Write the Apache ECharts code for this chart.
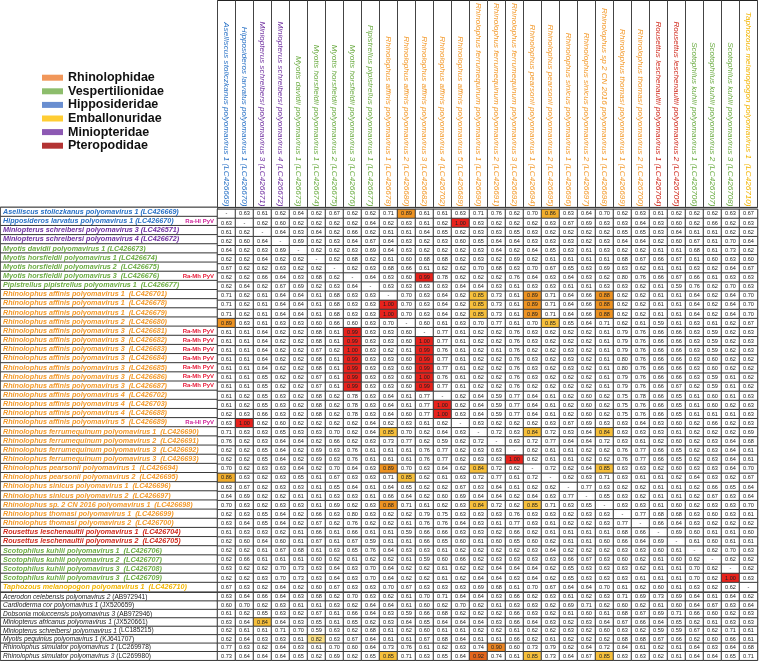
<!DOCTYPE html>
<html><head><meta charset="utf-8">
<script src="https://cdn.jsdelivr.net/npm/echarts@6/dist/echarts.min.js"></script>
<style>html,body{margin:0;padding:0;background:#fff}#c{width:760px;height:664px}</style>
</head><body><div id="c"></div>
<script>
// ---------- DATA ----------
const familyNames = ['Rhinolophidae','Vespertilionidae','Hipposideridae','Emballonuridae','Miniopteridae','Pteropodidae'];
const familyCodes = ['Rhi','Ves','Hip','Emb','Min','Pte'];
const familySwatch = ['#ed7d31','#70ad47','#4472c4','#ffc000','#7030a0','#a00000'];
const familyText = ['#f39a2c','#6cac43','#2a72c6','#f2b400','#7030a0','#d02b1e'];

const colLabels = [
 'Aselliscus stoliczkanus polyomavirus 1 (LC426669)','Hipposideros larvatus polyomavirus 1 (LC426670)',
 'Miniopterus schreibersi polyomavirus 3 (LC426671)','Miniopterus schreibersi polyomavirus 4 (LC426672)',
 'Myotis davidii polyomavirus 1 (LC426673)','Myotis horsfieldii polyomavirus 1 (LC426674)',
 'Myotis horsfieldii polyomavirus 2 (LC426675)','Myotis horsfieldii polyomavirus 3 (LC426676)',
 'Pipistrellus pipistrellus polyomavirus 1 (LC426677)','Rhinolophus affinis polyomavirus 1 (LC426678)',
 'Rhinolophus affinis polyomavirus 2 (LC426680)','Rhinolophus affinis polyomavirus 3 (LC426682)',
 'Rhinolophus affinis polyomavirus 4 (LC426702)','Rhinolophus affinis polyomavirus 5 (LC426689)',
 'Rhinolophus ferrumequinum polyomavirus 1 (LC426690)','Rhinolophus ferrumequinum polyomavirus 2 (LC426691)',
 'Rhinolophus ferrumequinum polyomavirus 3 (LC426692)','Rhinolophus pearsonii polyomavirus 1 (LC426694)',
 'Rhinolophus pearsonii polyomavirus 2 (LC426695)','Rhinolophus sinicus polyomavirus 1 (LC426696)',
 'Rhinolophus sinicus polyomavirus 2 (LC426697)','Rhinolophus sp 2 CN 2016 polyomavirus 1 (LC426698)',
 'Rhinolophus thomasi polyomavirus 1 (LC426699)','Rhinolophus thomasi polyomavirus 2 (LC426700)',
 'Rousettus leschenaultii polyomavirus 1 (LC426704)','Rousettus leschenaultii polyomavirus 2 (LC426705)',
 'Scotophilus kuhlii polyomavirus 1 (LC426706)','Scotophilus kuhlii polyomavirus 2 (LC426707)',
 'Scotophilus kuhlii polyomavirus 3 (LC426708)','Taphozous melanopogon polyomavirus 1  (LC426710)'];
const colFamilies = ['Hip','Hip','Min','Min','Ves','Ves','Ves','Ves','Ves','Rhi','Rhi','Rhi','Rhi','Rhi','Rhi',
 'Rhi','Rhi','Rhi','Rhi','Rhi','Rhi','Rhi','Rhi','Rhi','Pte','Pte','Ves','Ves','Ves','Emb'];

const rowLabels = [
 'Aselliscus stoliczkanus polyomavirus 1 (LC426669)','Hipposideros larvatus polyomavirus 1 (LC426670)',
 'Miniopterus schreibersi polyomavirus 3 (LC426571)','Miniopterus schreibersi polyomavirus 4 (LC426672)',
 'Myotis davidii polyomavirus 1 (LC426673)','Myotis horsfieldii polyomavirus 1 (LC426674)',
 'Myotis horsfieldii polyomavirus 2  (LC426675)','Myotis horsfieldii polyomavirus 3  (LC426676)',
 'Pipistrellus pipistrellus polyomavirus 1  (LC426677)','Rhinolophus affinis polyomavirus 1  (LC426701)',
 'Rhinolophus affinis polyomavirus 1  (LC426678)','Rhinolophus affinis polyomavirus 1  (LC426679)',
 'Rhinolophus affinis polyomavirus 2  (LC426680)','Rhinolophus affinis polyomavirus 3  (LC426681)',
 'Rhinolophus affinis polyomavirus 3  (LC426682)','Rhinolophus affinis polyomavirus 3  (LC426683)',
 'Rhinolophus affinis polyomavirus 3  (LC426684)','Rhinolophus affinis polyomavirus 3  (LC426685)',
 'Rhinolophus affinis polyomavirus 3  (LC426686)','Rhinolophus affinis polyomavirus 3  (LC426687)',
 'Rhinolophus affinis polyomavirus 4  (LC426702)','Rhinolophus affinis polyomavirus 4  (LC426703)',
 'Rhinolophus affinis polyomavirus 4  (LC426688)','Rhinolophus affinis polyomavirus 5  (LC426689)',
 'Rhinolophus ferrumequinum polyomavirus 1  (LC426690)','Rhinolophus ferrumequinum polyomavirus 2  (LC426691)',
 'Rhinolophus ferrumequinum polyomavirus 3  (LC426692)','Rhinolophus ferrumequinum polyomavirus 3  (LC426693)',
 'Rhinolophus pearsonii polyomavirus 1  (LC426694)','Rhinolophus pearsonii polyomavirus 2  (LC426695)',
 'Rhinolophus sinicus polyomavirus 1  (LC426696)','Rhinolophus sinicus polyomavirus 2  (LC426697)',
 'Rhinolophus sp. 2 CN 2016 polyomavirus 1  (LC426698)','Rhinolophus thomasi polyomavirus 1  (LC426699)',
 'Rhinolophus thomasi polyomavirus 2  (LC426700)','Rousettus leschenaultii polyomavirus 1  (LC426704)',
 'Rousettus leschenaultii polyomavirus 2  (LC426705)','Scotophilus kuhlii polyomavirus 1  (LC426706)',
 'Scotophilus kuhlii polyomavirus 2  (LC426707)','Scotophilus kuhlii polyomavirus 3  (LC426708)',
 'Scotophilus kuhlii polyomavirus 3  (LC426709)','Taphozous melanopogon polyomavirus 1  (LC426710)'];
const rowFamilies = ['Hip','Hip','Min','Min','Ves','Ves','Ves','Ves','Ves','Rhi','Rhi','Rhi','Rhi','Rhi','Rhi',
 'Rhi','Rhi','Rhi','Rhi','Rhi','Rhi','Rhi','Rhi','Rhi','Rhi','Rhi','Rhi','Rhi','Rhi','Rhi','Rhi','Rhi','Rhi',
 'Rhi','Rhi','Pte','Pte','Ves','Ves','Ves','Ves','Emb'];
const rowTags = ['', 'Ra-Hl PyV','','','','','','Ra-Mh PyV','','','','','',
 'Ra-Mh PyV','Ra-Mh PyV','Ra-Mh PyV','Ra-Mh PyV','Ra-Mh PyV','Ra-Mh PyV','Ra-Mh PyV','','','','Ra-Hl PyV',
 '','','','','','','','','','','','','','','','','',''];

const refRowLabels = [
 'Acerodon celebensis polyomavirus 2 (AB972941)','Cardioderma cor polyomavirus 1 (JX520659)',
 'Dobsonia moluccensis polyomavirus 3 (AB972946)','Miniopterus africanus polyomavirus 1 (JX520661)',
 'Miniopterus schreibersi polyomavirus 1 (LC185215)','Myotis pequinius polyomavirus 1 (KJ641707)',
 'Rhinolophus simulator polyomavirus 1 (LC269978)','Rhinolophus simulator polyomavirus 3 (LC269980)'];

// pairwise identity, '-' = self comparison
const identity = [
 ['-',0.63,0.61,0.62,0.64,0.62,0.67,0.62,0.62,0.71,0.89,0.61,0.61,0.63,0.71,0.76,0.62,0.70,0.86,0.63,0.64,0.70,0.62,0.63,0.61,0.62,0.62,0.62,0.63,0.67],
 [0.63,'-',0.62,0.60,0.62,0.62,0.62,0.62,0.64,0.62,0.63,0.61,0.62,1.00,0.63,0.62,0.62,0.62,0.63,0.67,0.69,0.63,0.63,0.64,0.63,0.60,0.62,0.66,0.62,0.63],
 [0.61,0.62,'-',0.64,0.63,0.64,0.62,0.66,0.62,0.61,0.61,0.64,0.65,0.62,0.63,0.63,0.65,0.63,0.62,0.62,0.62,0.62,0.65,0.65,0.63,0.64,0.61,0.61,0.62,0.62],
 [0.62,0.60,0.64,'-',0.69,0.62,0.63,0.64,0.67,0.64,0.63,0.62,0.63,0.60,0.65,0.64,0.64,0.63,0.63,0.63,0.62,0.63,0.64,0.64,0.62,0.60,0.67,0.61,0.70,0.64],
 [0.64,0.62,0.63,0.69,'-',0.62,0.62,0.63,0.69,0.64,0.63,0.62,0.62,0.62,0.63,0.64,0.62,0.64,0.65,0.63,0.61,0.63,0.62,0.62,0.61,0.61,0.68,0.61,0.73,0.62],
 [0.62,0.62,0.64,0.62,0.62,'-',0.62,0.68,0.62,0.61,0.60,0.68,0.68,0.62,0.63,0.62,0.69,0.62,0.61,0.61,0.61,0.61,0.68,0.67,0.66,0.67,0.61,0.60,0.63,0.60],
 [0.67,0.62,0.62,0.63,0.62,0.62,'-',0.62,0.63,0.68,0.66,0.61,0.62,0.62,0.70,0.68,0.63,0.70,0.67,0.65,0.63,0.69,0.63,0.62,0.61,0.61,0.63,0.62,0.64,0.67],
 [0.62,0.62,0.66,0.64,0.63,0.68,0.62,'-',0.64,0.63,0.60,0.99,0.78,0.62,0.62,0.62,0.76,0.64,0.63,0.64,0.63,0.62,0.80,0.76,0.66,0.67,0.66,0.61,0.63,0.63],
 [0.62,0.64,0.62,0.67,0.69,0.62,0.63,0.64,'-',0.63,0.63,0.63,0.63,0.64,0.64,0.63,0.61,0.63,0.63,0.61,0.61,0.63,0.63,0.62,0.61,0.59,0.76,0.62,0.70,0.63],
 [0.71,0.62,0.61,0.64,0.64,0.61,0.68,0.63,0.63,'-',0.70,0.63,0.64,0.62,0.85,0.73,0.61,0.89,0.71,0.64,0.66,0.88,0.62,0.62,0.61,0.61,0.64,0.62,0.64,0.70],
 [0.71,0.62,0.61,0.64,0.64,0.61,0.68,0.63,0.63,1.00,0.70,0.63,0.64,0.62,0.85,0.73,0.61,0.89,0.71,0.64,0.66,0.88,0.62,0.62,0.61,0.61,0.64,0.62,0.64,0.70],
 [0.71,0.62,0.61,0.64,0.64,0.61,0.68,0.63,0.63,1.00,0.70,0.63,0.64,0.62,0.85,0.73,0.61,0.89,0.71,0.64,0.66,0.88,0.62,0.62,0.61,0.61,0.64,0.62,0.64,0.70],
 [0.89,0.63,0.61,0.63,0.63,0.60,0.66,0.60,0.63,0.70,'-',0.60,0.61,0.63,0.70,0.77,0.61,0.70,0.85,0.65,0.64,0.71,0.62,0.61,0.59,0.61,0.63,0.61,0.62,0.67],
 [0.61,0.61,0.64,0.62,0.62,0.68,0.61,0.99,0.63,0.63,0.60,'-',0.77,0.61,0.62,0.62,0.76,0.63,0.62,0.62,0.62,0.61,0.79,0.76,0.66,0.66,0.63,0.59,0.62,0.63],
 [0.61,0.61,0.64,0.62,0.62,0.68,0.61,0.99,0.63,0.63,0.60,1.00,0.77,0.61,0.62,0.62,0.76,0.63,0.62,0.62,0.62,0.61,0.79,0.76,0.66,0.66,0.63,0.59,0.62,0.63],
 [0.61,0.61,0.64,0.62,0.62,0.67,0.62,1.00,0.63,0.62,0.61,0.99,0.76,0.61,0.62,0.61,0.76,0.62,0.62,0.63,0.62,0.61,0.79,0.76,0.66,0.66,0.63,0.59,0.62,0.63],
 [0.61,0.61,0.64,0.62,0.62,0.68,0.61,0.99,0.63,0.63,0.60,0.99,0.77,0.61,0.62,0.62,0.76,0.63,0.62,0.63,0.62,0.61,0.80,0.76,0.66,0.66,0.63,0.60,0.62,0.62],
 [0.61,0.61,0.64,0.62,0.62,0.68,0.61,0.99,0.63,0.63,0.60,0.99,0.77,0.61,0.62,0.62,0.76,0.63,0.62,0.63,0.62,0.61,0.80,0.76,0.66,0.66,0.63,0.60,0.62,0.62],
 [0.61,0.61,0.65,0.62,0.62,0.67,0.61,0.99,0.63,0.63,0.60,1.00,0.76,0.61,0.62,0.62,0.76,0.63,0.62,0.62,0.62,0.61,0.79,0.76,0.66,0.66,0.63,0.59,0.61,0.62],
 [0.61,0.61,0.65,0.62,0.62,0.67,0.61,0.99,0.63,0.63,0.60,0.99,0.77,0.61,0.62,0.62,0.76,0.62,0.62,0.62,0.62,0.61,0.79,0.76,0.66,0.67,0.62,0.59,0.61,0.62],
 [0.61,0.62,0.65,0.63,0.62,0.68,0.62,0.78,0.63,0.64,0.61,0.77,'-',0.62,0.64,0.59,0.77,0.64,0.61,0.62,0.60,0.62,0.75,0.78,0.66,0.65,0.61,0.60,0.61,0.63],
 [0.61,0.62,0.65,0.63,0.62,0.68,0.62,0.78,0.63,0.64,0.61,0.77,1.00,0.62,0.64,0.59,0.77,0.64,0.61,0.62,0.60,0.62,0.75,0.76,0.66,0.65,0.61,0.60,0.62,0.63],
 [0.62,0.63,0.66,0.63,0.62,0.68,0.62,0.78,0.63,0.64,0.60,0.77,1.00,0.63,0.64,0.59,0.77,0.64,0.61,0.62,0.60,0.62,0.75,0.76,0.66,0.65,0.61,0.61,0.61,0.63],
 [0.63,1.00,0.62,0.60,0.62,0.62,0.62,0.62,0.64,0.62,0.63,0.61,0.62,'-',0.63,0.62,0.62,0.62,0.63,0.67,0.69,0.63,0.63,0.64,0.63,0.60,0.62,0.66,0.62,0.63],
 [0.71,0.63,0.63,0.65,0.63,0.63,0.70,0.62,0.64,0.85,0.70,0.62,0.64,0.63,'-',0.72,0.63,0.84,0.72,0.63,0.64,0.84,0.63,0.63,0.63,0.61,0.62,0.62,0.62,0.69],
 [0.76,0.62,0.63,0.64,0.64,0.62,0.66,0.62,0.63,0.73,0.77,0.62,0.59,0.62,0.72,'-',0.63,0.72,0.77,0.64,0.64,0.72,0.63,0.61,0.62,0.60,0.62,0.63,0.64,0.68],
 [0.62,0.62,0.65,0.64,0.62,0.69,0.63,0.76,0.61,0.61,0.61,0.76,0.77,0.62,0.63,0.63,'-',0.62,0.61,0.61,0.62,0.62,0.76,0.77,0.66,0.65,0.62,0.63,0.64,0.61],
 [0.62,0.62,0.65,0.64,0.62,0.69,0.63,0.76,0.61,0.61,0.61,0.76,0.77,0.62,0.63,0.63,1.00,0.62,0.61,0.61,0.62,0.62,0.76,0.77,0.66,0.65,0.62,0.63,0.64,0.61],
 [0.70,0.62,0.63,0.63,0.64,0.62,0.70,0.64,0.63,0.89,0.70,0.63,0.64,0.62,0.84,0.72,0.62,'-',0.72,0.62,0.64,0.85,0.63,0.63,0.62,0.60,0.63,0.63,0.64,0.70],
 [0.86,0.63,0.62,0.63,0.65,0.61,0.67,0.63,0.63,0.71,0.85,0.62,0.61,0.63,0.72,0.77,0.61,0.72,'-',0.62,0.63,0.71,0.63,0.61,0.61,0.62,0.64,0.63,0.62,0.67],
 [0.63,0.67,0.62,0.63,0.63,0.61,0.65,0.64,0.61,0.64,0.65,0.62,0.62,0.67,0.63,0.64,0.61,0.62,0.62,'-',0.77,0.63,0.62,0.62,0.61,0.61,0.62,0.66,0.65,0.64],
 [0.64,0.69,0.62,0.62,0.61,0.61,0.63,0.63,0.61,0.66,0.64,0.62,0.60,0.69,0.64,0.64,0.62,0.64,0.63,0.77,'-',0.65,0.63,0.62,0.61,0.61,0.62,0.67,0.63,0.64],
 [0.70,0.63,0.62,0.63,0.63,0.61,0.69,0.62,0.63,0.88,0.71,0.61,0.62,0.63,0.84,0.72,0.62,0.85,0.71,0.63,0.65,'-',0.63,0.63,0.61,0.60,0.62,0.63,0.63,0.70],
 [0.62,0.63,0.65,0.64,0.62,0.66,0.63,0.80,0.63,0.62,0.62,0.79,0.75,0.63,0.63,0.63,0.76,0.63,0.63,0.62,0.63,0.63,'-',0.77,0.68,0.68,0.63,0.60,0.63,0.61],
 [0.63,0.64,0.65,0.64,0.62,0.67,0.62,0.76,0.62,0.62,0.61,0.76,0.76,0.64,0.63,0.61,0.77,0.63,0.61,0.62,0.62,0.63,0.77,'-',0.66,0.64,0.63,0.62,0.62,0.62],
 [0.61,0.63,0.63,0.62,0.61,0.66,0.61,0.66,0.61,0.61,0.59,0.66,0.66,0.63,0.63,0.62,0.66,0.62,0.61,0.61,0.61,0.61,0.68,0.66,'-',0.69,0.60,0.61,0.61,0.60],
 [0.62,0.60,0.64,0.60,0.61,0.67,0.61,0.67,0.59,0.61,0.61,0.66,0.65,0.60,0.61,0.60,0.65,0.60,0.62,0.61,0.61,0.60,0.66,0.64,0.69,'-',0.61,0.60,0.61,0.61],
 [0.62,0.62,0.61,0.67,0.68,0.61,0.63,0.65,0.76,0.64,0.63,0.63,0.61,0.62,0.62,0.62,0.62,0.63,0.64,0.62,0.62,0.62,0.63,0.63,0.60,0.61,'-',0.62,0.70,0.63],
 [0.62,0.66,0.61,0.61,0.61,0.60,0.62,0.61,0.62,0.62,0.61,0.59,0.60,0.66,0.62,0.63,0.63,0.63,0.63,0.66,0.67,0.63,0.60,0.62,0.61,0.60,0.62,'-',0.62,0.62],
 [0.63,0.62,0.62,0.70,0.73,0.63,0.64,0.63,0.70,0.64,0.62,0.62,0.61,0.62,0.62,0.64,0.64,0.64,0.62,0.65,0.63,0.63,0.63,0.62,0.61,0.61,0.70,0.62,'-',0.62],
 [0.62,0.62,0.63,0.70,0.73,0.63,0.64,0.63,0.70,0.64,0.62,0.62,0.61,0.62,0.64,0.64,0.63,0.64,0.62,0.65,0.63,0.63,0.63,0.61,0.61,0.61,0.70,0.62,1.00,0.63],
 [0.67,0.63,0.62,0.64,0.62,0.60,0.67,0.63,0.63,0.70,0.67,0.63,0.63,0.63,0.69,0.68,0.61,0.70,0.67,0.64,0.64,0.70,0.61,0.62,0.60,0.61,0.63,0.62,0.62,'-']];

const refIdentity = [
 [0.63,0.64,0.66,0.64,0.63,0.68,0.62,0.70,0.63,0.62,0.61,0.70,0.71,0.64,0.64,0.63,0.66,0.62,0.63,0.61,0.62,0.63,0.71,0.69,0.73,0.69,0.64,0.61,0.64,0.62],
 [0.60,0.70,0.62,0.63,0.61,0.61,0.63,0.62,0.64,0.64,0.61,0.60,0.62,0.70,0.62,0.61,0.63,0.63,0.62,0.69,0.71,0.62,0.60,0.62,0.61,0.60,0.64,0.67,0.63,0.64],
 [0.61,0.62,0.65,0.63,0.62,0.67,0.61,0.66,0.64,0.63,0.59,0.66,0.68,0.62,0.62,0.62,0.66,0.63,0.62,0.61,0.60,0.61,0.68,0.67,0.69,0.71,0.66,0.60,0.62,0.63],
 [0.63,0.64,0.84,0.64,0.63,0.65,0.61,0.65,0.62,0.63,0.64,0.65,0.64,0.64,0.64,0.63,0.66,0.64,0.63,0.62,0.63,0.64,0.67,0.66,0.64,0.65,0.62,0.61,0.63,0.63],
 [0.62,0.61,0.61,0.71,0.70,0.59,0.63,0.62,0.68,0.61,0.62,0.60,0.61,0.61,0.62,0.62,0.61,0.62,0.62,0.63,0.62,0.60,0.63,0.62,0.59,0.59,0.67,0.62,0.71,0.61],
 [0.62,0.64,0.63,0.63,0.61,0.82,0.63,0.67,0.64,0.61,0.61,0.67,0.68,0.64,0.61,0.61,0.66,0.62,0.61,0.62,0.62,0.62,0.68,0.68,0.67,0.66,0.62,0.60,0.66,0.61],
 [0.77,0.63,0.62,0.64,0.63,0.61,0.70,0.60,0.64,0.73,0.76,0.61,0.62,0.63,0.74,0.90,0.60,0.73,0.79,0.62,0.64,0.72,0.64,0.61,0.62,0.61,0.64,0.63,0.64,0.68],
 [0.73,0.64,0.64,0.64,0.65,0.62,0.69,0.62,0.65,0.85,0.71,0.63,0.65,0.64,0.92,0.74,0.61,0.85,0.73,0.64,0.67,0.85,0.63,0.63,0.62,0.61,0.64,0.64,0.65,0.71]];

// ---------- CHART ----------
const FONT = '"Liberation Sans", Arial, sans-serif';
const GL = 217.5, GW = 540;           // table columns area
const TOP = 207.4, H_MAIN = 384.3;     // main block
const TOP_REF = 592.7, H_REF = 67.5;   // reference block

function toHeat(m) {
  const out = [];
  m.forEach((row, r) => row.forEach((v, c) => out.push([c, r, v === '-' ? -1 : v])));
  return out;
}

const rowRich = {};
familyCodes.forEach((code, i) => {
  rowRich[code] = {color: familyText[i], fontStyle: 'italic', fontWeight: 'bold', fontSize: 7.2, fontFamily: FONT};
});
rowRich.mh = {color: '#e8203c', fontWeight: 'bold', fontSize: 6, fontFamily: FONT, width: 31, align: 'right'};
rowRich.hl = {color: '#d0259a', fontWeight: 'bold', fontSize: 6, fontFamily: FONT, width: 31, align: 'right'};
rowRich.ri = {color: '#222', fontStyle: 'italic', fontSize: 6.6, fontFamily: FONT};
rowRich.ra = {color: '#222', fontSize: 6.6, fontFamily: FONT};

const colRich = {};
familyCodes.forEach((code, i) => {
  colRich[code] = {color: familyText[i], fontStyle: 'italic', fontSize: 8.1, fontFamily: FONT};
});

const cellLabel = {
  show: true, fontSize: 5.6, color: '#222', fontFamily: FONT,
  formatter: p => p.value[2] < 0 ? '-' : p.value[2].toFixed(2)
};
const cellStyle = {borderColor: '#3a3a3a', borderWidth: 1};
const idx = n => Array.from({length: n}, (_, i) => String(i));

const option = {
  animation: false,
  backgroundColor: '#fff',
  legend: {
    data: familyNames, orient: 'vertical', left: 37, top: 66, itemWidth: 21, itemHeight: 6,
    itemGap: 0.2, icon: 'rect', selectedMode: false,
    textStyle: {fontSize: 12.5, lineHeight: 13.4, fontWeight: 'bold', color: '#111', fontFamily: FONT}
  },
  grid: [
    {left: GL, top: TOP, width: GW, height: H_MAIN, show: true, borderColor: '#222', borderWidth: 1},
    {left: GL, top: TOP_REF, width: GW, height: H_REF, show: true, borderColor: '#222', borderWidth: 1},
    {left: 0.5, top: TOP, width: GL - 0.5, height: H_MAIN, show: true, borderColor: '#222', borderWidth: 1},
    {left: 0.5, top: TOP_REF, width: GL - 0.5, height: H_REF, show: true, borderColor: '#222', borderWidth: 1},
    {left: GL, top: 0.5, width: GW, height: TOP - 0.5, show: true, borderColor: '#222', borderWidth: 1}
  ],
  xAxis: [
    {gridIndex: 0, type: 'category', position: 'top', data: idx(colLabels.length),
     axisLine: {show: false}, axisTick: {show: false}, z: 10,
     axisLabel: {interval: 0, rotate: 90, margin: 3, rich: colRich,
       formatter: (v, i) => '{' + colFamilies[i] + '|' + colLabels[i] + '}'}},
    {gridIndex: 1, type: 'category', data: idx(colLabels.length), show: false},
    {gridIndex: 2, type: 'category', data: ['l'], show: false},
    {gridIndex: 3, type: 'category', data: ['l'], show: false},
    {gridIndex: 4, type: 'category', data: idx(colLabels.length), axisLine: {show: false}, axisTick: {show: false},
     axisLabel: {show: false}, splitLine: {show: true, interval: 0, lineStyle: {color: '#444', width: 1}}}
  ],
  yAxis: [
    {gridIndex: 0, type: 'category', inverse: true, data: idx(rowLabels.length), show: false},
    {gridIndex: 1, type: 'category', inverse: true, data: idx(refRowLabels.length), show: false},
    {gridIndex: 2, type: 'category', inverse: true, data: idx(rowLabels.length), z: 10,
     axisLine: {show: false}, axisTick: {show: false},
     axisLabel: {inside: true, interval: 0, margin: 2.5, width: 211, rich: rowRich,
       formatter: (v, i) => {
         let s = '{' + rowFamilies[i] + '|' + rowLabels[i] + '}';
         if (rowTags[i]) s += '{' + (rowTags[i].indexOf('Mh') >= 0 ? 'mh' : 'hl') + '|' + rowTags[i] + '}';
         return s;
       }}},
    {gridIndex: 3, type: 'category', inverse: true, data: idx(refRowLabels.length), z: 10,
     axisLine: {show: false}, axisTick: {show: false},
     axisLabel: {inside: true, interval: 0, margin: 2.5, rich: rowRich,
       formatter: (v, i) => {
         const m = refRowLabels[i].match(/^(.*?)\s*(\(.*\))$/);
         return '{ri|' + m[1] + ' }{ra|' + m[2] + '}';
       }}},
    {gridIndex: 4, type: 'value', show: false}
  ],
  visualMap: {
    type: 'piecewise', show: false, dimension: 2, seriesIndex: [0, 1, 2, 3],
    pieces: [
      {lt: 0, color: '#ffffff'},
      {gte: 0, lt: 0.815, color: '#ffffff'},
      {gte: 0.815, lt: 0.835, color: '#fde38c'},
      {gte: 0.835, lt: 0.855, color: '#f7c03c'},
      {gte: 0.855, lt: 0.865, color: '#f2ae2c'},
      {gte: 0.865, lt: 0.895, color: '#ee9322'},
      {gte: 0.895, lt: 0.91, color: '#eb8624'},
      {gte: 0.91, lt: 0.95, color: '#e3661d'},
      {gte: 0.95, color: '#e8221c'}
    ]
  },
  series: [
    {type: 'heatmap', xAxisIndex: 0, yAxisIndex: 0, data: toHeat(identity), label: cellLabel,
     itemStyle: cellStyle, emphasis: {disabled: true}},
    {type: 'heatmap', xAxisIndex: 1, yAxisIndex: 1, data: toHeat(refIdentity), label: cellLabel,
     itemStyle: cellStyle, emphasis: {disabled: true}},
    {type: 'heatmap', xAxisIndex: 2, yAxisIndex: 2, data: rowLabels.map((_, r) => [0, r, 0]), z: 0,
     itemStyle: cellStyle, emphasis: {disabled: true}, silent: true},
    {type: 'heatmap', xAxisIndex: 3, yAxisIndex: 3, data: refRowLabels.map((_, r) => [0, r, 0]), z: 0,
     itemStyle: cellStyle, emphasis: {disabled: true}, silent: true},
    {type: 'scatter', xAxisIndex: 4, yAxisIndex: 4, data: [], silent: true}
  ].concat(familyNames.map((n, i) => ({
    type: 'scatter', name: n, xAxisIndex: 4, yAxisIndex: 4, data: [], itemStyle: {color: familySwatch[i]}
  })))
};

const chart = echarts.init(document.getElementById('c'), null, {renderer: 'canvas'});
chart.setOption(option);
</script>
</body></html>
